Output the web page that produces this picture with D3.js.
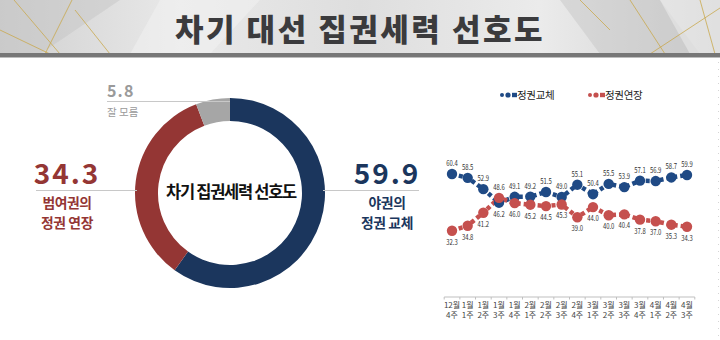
<!DOCTYPE html>
<html><head><meta charset="utf-8">
<script src="https://cdn.jsdelivr.net/npm/d3@7"></script>
<style>
html,body{margin:0;padding:0;background:#fff;}
svg{display:block;}
text{font-family:"Noto Sans CJK KR","Noto Sans",sans-serif;}
</style></head>
<body><svg id="c" width="720" height="340"></svg>
<script>
// ---- data ----
const title = "차기 대선 집권세력 선호도";
const donutCenterTitle = "차기 집권세력 선호도";
const donutLabels = ["야권의 정권 교체", "범여권의 정권 연장", "잘 모름"];
const donutValues = [59.9, 34.3, 5.8];
const weeks = ["12월|4주","1월|1주","1월|2주","1월|3주","1월|4주","2월|1주","2월|2주","2월|3주","2월|4주","3월|1주","3월|2주","3월|3주","3월|4주","4월|1주","4월|2주","4월|3주"];
const seriesNames = ["정권교체", "정권연장"];
const changeValues = [60.4,58.5,52.9,46.2,49.1,49.2,51.5,49.0,55.1,50.4,55.5,53.9,57.1,56.9,58.7,59.9];
const extendValues = [32.3,34.8,41.2,48.6,46.0,45.2,44.5,45.3,39.0,44.0,40.0,40.4,37.8,37.0,35.3,34.3];

const svg = d3.select("#c");
const NAVY = "#1b365d", DRED = "#943634", GRAY = "#a6a6a6";
const LBLUE = "#1f4a85", LRED = "#c5504e";

// ---- header ----
const defs = svg.append("defs");
const g1 = defs.append("linearGradient").attr("id","hg").attr("x1","0").attr("x2","1").attr("y1","0").attr("y2","0");
g1.append("stop").attr("offset","0").attr("stop-color","#d0d0d0");
g1.append("stop").attr("offset","0.25").attr("stop-color","#e9e9e9");
g1.append("stop").attr("offset","0.5").attr("stop-color","#dedede");
g1.append("stop").attr("offset","0.75").attr("stop-color","#ebebeb");
g1.append("stop").attr("offset","1").attr("stop-color","#cfcfcf");
svg.append("rect").attr("x",0).attr("y",0).attr("width",720).attr("height",54).attr("fill","url(#hg)");
const shapes = [
  [[0,0],[120,0],[40,54],[0,54]],
  [[160,0],[260,0],[210,54],[130,54]],
  [[560,0],[660,0],[700,54],[600,54]],
  [[660,0],[720,0],[720,54],[690,54]]
];
shapes.forEach((p,i)=>svg.append("polygon").attr("points",p.map(d=>d.join(",")).join(" "))
  .attr("fill", i%2? "#f3f3f3":"#c4c4c4").attr("opacity",0.45));
const gold = [
  [[0,30],[50,54]],[[14,0],[60,54]],[[72,0],[45,54]],[[75,10],[110,54]],
  [[630,0],[665,54]],[[720,8],[650,54]],[[700,0],[715,54]],[[580,0],[610,30]]
];
gold.forEach(l=>svg.append("line").attr("x1",l[0][0]).attr("y1",l[0][1]).attr("x2",l[1][0]).attr("y2",l[1][1])
  .attr("stroke","#c9a84a").attr("stroke-width",0.9).attr("opacity",0.85));
svg.append("rect").attr("x",0).attr("y",53).attr("width",720).attr("height",4).attr("fill","#777");
svg.append("rect").attr("x",0).attr("y",57).attr("width",720).attr("height",1).attr("fill","#bdbdbd");
svg.append("text").attr("x",360).attr("y",41).attr("text-anchor","middle")
  .attr("font-size",31).attr("font-weight",900).attr("letter-spacing",2.5).attr("fill","#3b3b3d").text(title);

// ---- donut ----
const cx = 230, cy = 193, R = 95, r = 72;
const pie = d3.pie().sort(null).value(d=>d)(donutValues);
const arc = d3.arc().innerRadius(r).outerRadius(R);
const dg = svg.append("g").attr("transform",`translate(${cx},${cy})`);
const dcol = [NAVY, DRED, GRAY];
dg.selectAll("path").data(pie).enter().append("path").attr("d",arc).attr("fill",(d,i)=>dcol[i]);
dg.append("text").attr("x",1).attr("y",5).attr("text-anchor","middle").attr("font-size",16.5)
  .attr("font-weight",700).attr("letter-spacing",-1.3).attr("fill","#111").text(donutCenterTitle);

// leader lines
svg.append("line").attr("x1",36).attr("x2",cx-R+2).attr("y1",190.5).attr("y2",190.5).attr("stroke","#c8c8c8");
svg.append("line").attr("x1",cx+R-2).attr("x2",419).attr("y1",190.5).attr("y2",190.5).attr("stroke","#c8c8c8");
svg.append("line").attr("x1",107).attr("x2",cx).attr("y1",101.5).attr("y2",101.5).attr("stroke","#c8c8c8");

function bigNum(x,y,val,col,size,anchor){
  svg.append("text").attr("x",x).attr("y",y).attr("text-anchor",anchor).attr("font-family","'Noto Sans',sans-serif")
    .attr("font-size",size).attr("font-weight",700).attr("letter-spacing",size*0.07).attr("fill",col).text(val.toFixed(1));
}
bigNum(67,183.5,donutValues[1],DRED,28,"middle");
bigNum(387,183.5,donutValues[0],NAVY,28,"middle");
bigNum(107,97,donutValues[2],"#9a9a9a",16,"start");

function twoLine(x,y,txt,col,size){
  const parts = txt.split(" ");
  const l1 = parts[0], l2 = parts.slice(1).join(" ");
  svg.append("text").attr("x",x).attr("y",y).attr("text-anchor","middle").attr("font-size",size).attr("font-weight",700).attr("fill",col).attr("letter-spacing",-0.4).text(l1);
  svg.append("text").attr("x",x).attr("y",y+20).attr("text-anchor","middle").attr("font-size",size).attr("font-weight",700).attr("fill",col).attr("letter-spacing",-0.4).text(l2);
}
twoLine(67,208,donutLabels[1],DRED,13.8);
twoLine(387,208,donutLabels[0],NAVY,13.8);
svg.append("text").attr("x",107).attr("y",116).attr("font-size",10.5).attr("fill","#9a9a9a").text(donutLabels[2]);

// ---- line chart ----
const x = d3.scalePoint().domain(weeks).range([452,687]);
const xb = d3.scaleBand().domain(weeks).range([444.2,694.8]);
const y = d3.scaleLinear().domain([0,100]).range([296,94]);

const ax = svg.append("g").attr("transform","translate(0,297)");
ax.append("line").attr("x1",xb.range()[0]).attr("x2",xb.range()[1]).attr("stroke","#bfbfbf");
const bounds = weeks.map(w=>xb(w)).concat([xb.range()[1]]);
ax.selectAll("line.t").data(bounds).enter().append("line").attr("class","t")
  .attr("x1",d=>d).attr("x2",d=>d).attr("y1",0).attr("y2",2.5).attr("stroke","#bfbfbf");
weeks.forEach(w=>{
  const [a,b] = w.split("|");
  const t = ax.append("text").attr("text-anchor","middle").attr("font-size",8).attr("fill","#444");
  t.append("tspan").attr("x",x(w)).attr("y",11).text(a);
  t.append("tspan").attr("x",x(w)).attr("y",21).text(b);
});

const series = [
  {name:seriesNames[0], vals:changeValues, col:LBLUE, other:extendValues},
  {name:seriesNames[1], vals:extendValues, col:LRED, other:changeValues}
];
const line = d3.line().x((d,i)=>x(weeks[i])).y(d=>y(d));
series.forEach(s=>{
  svg.append("path").attr("d",line(s.vals)).attr("fill","none").attr("stroke",s.col)
    .attr("stroke-width",4.5).attr("stroke-dasharray","4,3");
});
series.forEach(s=>{
  svg.selectAll(null).data(s.vals).enter().append("circle")
    .attr("cx",(d,i)=>x(weeks[i])).attr("cy",d=>y(d)).attr("r",5.2).attr("fill",s.col);
});
series.forEach(s=>{
  svg.selectAll(null).data(s.vals).enter().append("text")
    .attr("x",(d,i)=>x(weeks[i]))
    .attr("y",(d,i)=> d>=s.other[i] ? y(d)-8 : y(d)+14)
    .attr("text-anchor","middle")
    .attr("font-size",8).attr("fill","#333")
    .attr("textLength",11.5).attr("lengthAdjust","spacingAndGlyphs")
    .text(d=>d.toFixed(1));
});

// legend
const lg = [{x:500,s:series[0]},{x:588,s:series[1]}];
lg.forEach(l=>{
  const g = svg.append("g").attr("transform",`translate(${l.x},95)`);
  g.append("circle").attr("cx",2).attr("cy",0).attr("r",2).attr("fill",l.s.col);
  g.append("circle").attr("cx",8).attr("cy",0).attr("r",2.6).attr("fill",l.s.col);
  g.append("rect").attr("x",12).attr("y",-2.2).attr("width",5).attr("height",4.4).attr("fill",l.s.col);
  g.append("text").attr("x",17).attr("y",4).attr("font-size",10.5).attr("fill","#222").attr("letter-spacing",-0.3).text(l.s.name);
});

svg.append("line").attr("x1",718.5).attr("x2",718.5).attr("y1",62).attr("y2",340)
  .attr("stroke","#d5d5d5").attr("stroke-dasharray","1,6");
</script></body></html>
